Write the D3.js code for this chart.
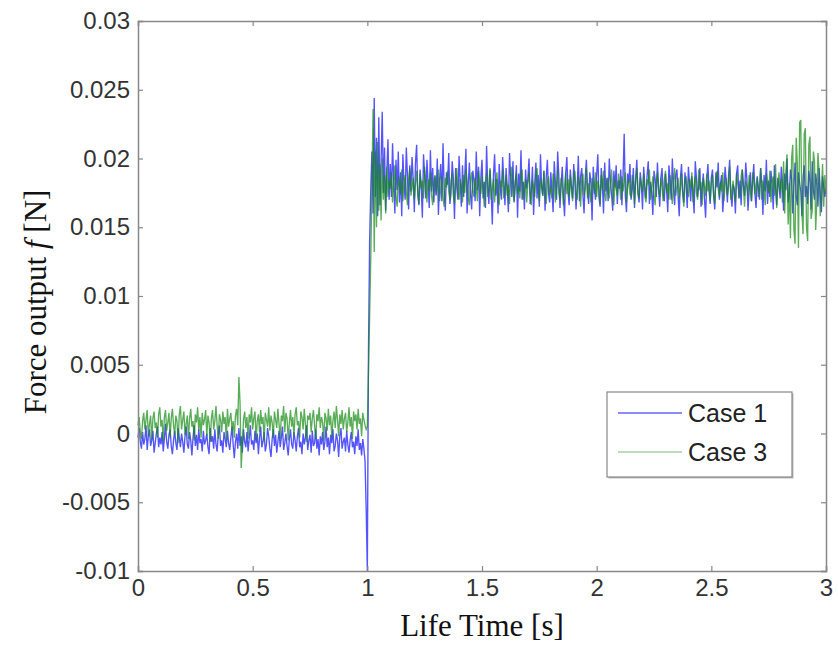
<!DOCTYPE html>
<meta charset="utf-8">
<title>force output</title>
<style>
body { margin: 0; background: #fff; }
.tick text { font-family: "Liberation Sans", Arial, sans-serif; fill: #333; }
</style>
<svg width="838" height="664"></svg>
<script src="https://d3js.org/d3.v7.min.js"></script>
<script>
// sample step 0.005 s (20 samples per row = 0.1 s), values in units of 1e-4 N
var DT = 0.005, UNIT = 1e-4;

var case1 = [
  -3, 4, -6, -11, 1, -8, -4, 6, -12, -2, 3, -9, -5, 2, -14, -7, 0, 5, -10, -3,
  -8, 1, -13, -4, 7, -6, -11, -1, 3, -9, -15, -5, 2, -7, -12, 4, -3, -10, 0, -6,
  -14, -2, 5, -8, -11, 1, -5, -16, -3, 6, -9, -1, -12, 3, -7, -4, -13, 2, -8, -5,
  0, -10, -15, 4, -6, -2, -11, 3, -8, -13, -1, 6, -9, -5, -14, 1, -4, -10, 2, -7,
  -12, -3, 5, -8, -18, -6, 0, -11, 4, -9, -2, -14, 3, -6, -10, 1, -13, -4, 6, -8,
  -5, -12, 2, -7, 0, -15, -3, 5, -10, -6, 1, -13, -8, 4, -2, -11, -17, -4, 3, -9,
  -1, -14, -6, 2, -10, -3, 5, -12, -7, 0, -9, -16, -4, 3, -8, -11, 1, -5, -13, -2,
  4, -10, -6, -15, 0, -8, -3, 6, -12, -5, -1, -14, 2, -9, -7, 3, -11, -4, -16, -2,
  -8, 1, -12, -6, 5, -10, -3, -15, -1, -7, 3, -13, -9, 0, -5, -17, -2, 4, -11, -6,
  -3, -13, 2, -8, -14, -5, 1, -10, -6, -15, -2, -9, 3, -12, -7, -16, -4, -11, -20, -55,
  -100, 60, 140, 178, 205, 160, 244, 172, 215, 158, 230, 166, 198, 234, 175, 208, 162, 190, 214, 170,
  196, 172, 211, 184, 160, 199, 177, 205, 168, 190, 158, 203, 181, 170, 208, 187, 163, 195, 176, 201,
  185, 161, 197, 210, 174, 166, 192, 179, 157, 203, 188, 171, 199, 182, 164, 206, 176, 193, 168, 187,
  173, 200, 159, 184, 196, 169, 211, 178, 162, 190, 181, 204, 167, 175, 198, 186, 156, 193, 179, 170,
  202, 183, 165, 195, 172, 188, 207, 160, 181, 197, 174, 163, 191, 185, 169, 205, 177, 194, 158, 186,
  199, 171, 183, 164, 209, 180, 167, 192, 176, 152, 188, 203, 173, 185, 160, 196, 178, 170, 201, 184,
  166, 193, 179, 161, 204, 187, 172, 198, 168, 181, 195, 157, 189, 176, 206, 170, 183, 163, 192, 178,
  185, 200, 167, 176, 194, 159, 182, 197, 171, 188, 165, 203, 179, 173, 191, 162, 186, 199, 175, 168,
  190, 177, 161, 198, 183, 170, 205, 187, 164, 181, 194, 172, 158, 189, 201, 176, 166, 192, 180, 171,
  196, 184, 163, 178, 202, 169, 187, 193, 174, 160, 185, 199, 177, 167, 190, 182, 155, 194, 179, 170,
  188, 203, 172, 165, 193, 181, 160, 197, 176, 186, 169, 200, 183, 174, 162, 191, 179, 195, 167, 184,
  178, 192, 166, 187, 218, 173, 161, 189, 182, 196, 170, 177, 193, 164, 185, 199, 175, 168, 190, 181,
  163, 194, 180, 171, 188, 198, 167, 183, 176, 159, 191, 185, 172, 197, 178, 165, 186, 193, 174, 169,
  189, 177, 161, 195, 184, 170, 200, 179, 166, 188, 192, 173, 158, 185, 196, 176, 168, 190, 181, 164,
  194, 182, 169, 187, 175, 160, 198, 186, 172, 180, 193, 165, 178, 189, 171, 157, 184, 196, 177, 167,
  186, 192, 173, 163, 190, 179, 197, 170, 182, 188, 161, 176, 194, 183, 168, 187, 199, 174, 165, 181,
  178, 160, 189, 195, 171, 184, 166, 192, 180, 173, 197, 185, 162, 177, 190, 169, 183, 196, 175, 164,
  187, 179, 170, 193, 182, 159, 188, 176, 199, 167, 184, 172, 191, 181, 163, 195, 178, 166, 186, 180,
  171, 194, 183, 162, 189, 177, 200, 168, 174, 192, 185, 160, 179, 197, 173, 166, 190, 182, 176, 158,
  186, 195, 172, 180, 167, 191, 184, 163, 198, 177, 170, 189, 181, 165, 193, 175, 161, 187, 179, 172,
  178
];

var case3 = [
  6, 12, 1, -4, 9, 15, 3, 10, 17, -2, 7, 13, -5, 11, 16, 4, 8, -3, 14, 19,
  5, 10, -6, 12, 17, 2, 8, 15, -3, 11, 18, 6, -1, 13, 9, -7, 14, 20, 3, 10,
  16, -1, 7, 13, -4, 11, 18, 5, 9, -5, 14, 8, 19, 2, 12, -3, 15, 6, 10, 17,
  -2, 13, 8, -6, 11, 17, 3, 9, 20, 6, -4, 14, 10, 1, 16, 7, 12, -5, 18, 5,
  11, 15, 2, 9, -3, 13, 18, 6, 41, 22, -25, -8, 10, 16, 4, 12, -4, 14, 8, 19,
  3, 11, 16, -5, 9, 14, 1, 17, 7, 12, -6, 15, 10, 5, 19, 2, 13, 8, -3, 16,
  10, 4, 18, 7, -4, 13, 9, 20, 1, 15, 11, -5, 8, 17, 5, 12, -2, 14, 19, 6,
  9, -3, 16, 12, 3, 18, 7, -6, 13, 10, 15, 1, 11, 17, 6, -4, 14, 9, 19, 4,
  12, 8, -5, 15, 11, 2, 18, 6, 13, -3, 9, 16, 4, 20, 10, -2, 14, 7, 17, 3,
  11, 15, 1, 8, 19, 5, 12, -4, 16, 9, 14, 3, 18, 7, 11, -2, 15, 10, 6, 3,
  5, 45, 85, 128, 180, 236, 132, 205, 150, 212, 162, 196, 155, 200, 170, 188, 160, 194, 172, 185,
  178, 190, 168, 183, 195, 172, 165, 187, 180, 174, 192, 169, 181, 188, 176, 166, 185, 193, 173, 179,
  186, 170, 182, 191, 175, 167, 189, 178, 184, 171, 194, 180, 168, 185, 177, 190, 173, 166, 183, 188,
  174, 181, 192, 169, 178, 187, 172, 165, 186, 179, 191, 176, 170, 184, 189, 173, 167, 182, 193, 177,
  170, 185, 180, 168, 188, 175, 192, 183, 171, 166, 184, 190, 177, 172, 186, 179, 169, 191, 181, 174,
  187, 176, 165, 183, 189, 172, 180, 193, 170, 178, 185, 168, 182, 190, 175, 166, 184, 179, 192, 171,
  177, 188, 173, 181, 167, 186, 194, 176, 169, 183, 189, 174, 180, 171, 187, 192, 170, 178, 185, 168,
  182, 190, 175, 166, 184, 179, 172, 188, 193, 177, 169, 185, 181, 173, 191, 176, 167, 183, 187, 174,
  180, 171, 189, 184, 168, 178, 192, 175, 170, 186, 181, 166, 179, 190, 174, 185, 172, 188, 177, 169,
  183, 191, 176, 170, 187, 180, 165, 184, 189, 173, 178, 193, 171, 182, 176, 168, 186, 180, 174, 190,
  172, 184, 179, 167, 188, 177, 191, 175, 169, 183, 186, 171, 180, 192, 176, 166, 185, 178, 173, 189,
  181, 170, 187, 176, 183, 190, 168, 179, 185, 174, 172, 188, 182, 167, 184, 193, 175, 171, 186, 180,
  176, 189, 173, 168, 185, 181, 192, 170, 178, 187, 174, 166, 183, 190, 177, 172, 186, 179, 169, 184,
  191, 175, 182, 170, 188, 176, 167, 184, 193, 173, 180, 186, 171, 178, 189, 174, 165, 183, 187, 176,
  172, 185, 179, 190, 168, 181, 187, 175, 170, 192, 177, 183, 166, 186, 180, 173, 189, 176, 184, 169,
  182, 188, 174, 167, 185, 191, 178, 172, 183, 176, 190, 169, 181, 186, 173, 179, 194, 170, 177, 184,
  175, 168, 189, 182, 176, 171, 187, 192, 178, 165, 184, 180, 173, 188, 176, 169, 190, 183, 174, 181,
  186, 172, 179, 193, 170, 184, 177, 166, 189, 181, 175, 191, 168, 183, 187, 173, 196, 164, 180, 190,
  176, 185, 168, 198, 160, 190, 203, 152, 182, 142, 200, 210, 148, 138, 215, 196, 135, 226, 228, 160,
  145, 218, 222, 150, 140, 210, 216, 156, 162, 205, 198, 148, 170, 204, 190, 158, 176, 196, 165, 188,
  175
];

var xTicks = [0, 0.5, 1, 1.5, 2, 2.5, 3];
var yTicks = [-0.01, -0.005, 0, 0.005, 0.01, 0.015, 0.02, 0.025, 0.03];
var seriesNames = ["Case 1", "Case 3"];

var svg = d3.select("svg"),
    margin = {top: 21, right: 12, bottom: 93, left: 138},
    width = +svg.attr("width") - margin.left - margin.right,
    height = +svg.attr("height") - margin.top - margin.bottom,
    g = svg.append("g").attr("transform", "translate(" + margin.left + "," + margin.top + ")");

var x = d3.scaleLinear().domain([0, 3]).range([0, width]);
var y = d3.scaleLinear().domain([-0.01, 0.03]).range([height, 0]);

var fmt = function(d) { return String(d); };

var line = d3.line()
    .x(function(d, i) { return x(i * DT); })
    .y(function(d) { return y(d * UNIT); });

g.append("path")
    .datum(case1)
    .attr("fill", "none")
    .attr("stroke", "#1a1aff")
    .attr("stroke-opacity", 0.75)
    .attr("stroke-width", 1.35)
    .attr("d", line);

g.append("path")
    .datum(case3)
    .attr("fill", "none")
    .attr("stroke", "#138a13")
    .attr("stroke-opacity", 0.7)
    .attr("stroke-width", 1.35)
    .attr("d", line);

function styleAxis(sel) {
  sel.select(".domain").attr("stroke", "#888").attr("stroke-width", 1.5);
  sel.selectAll(".tick line").attr("stroke", "#888").attr("stroke-width", 1.2);
}

g.append("g")
    .attr("transform", "translate(0," + height + ")")
    .call(d3.axisBottom(x).tickValues(xTicks).tickSize(-5).tickPadding(6).tickFormat(fmt))
    .call(styleAxis)
    .selectAll("text").style("font-size", "24px").attr("dy", "0.8em");

g.append("g")
    .call(d3.axisTop(x).tickValues(xTicks).tickSize(-5).tickFormat(""))
    .call(styleAxis);

g.append("g")
    .call(d3.axisLeft(y).tickValues(yTicks).tickSize(-5).tickPadding(8).tickFormat(fmt))
    .call(styleAxis)
    .selectAll("text").style("font-size", "24px");

g.append("g")
    .attr("transform", "translate(" + width + ",0)")
    .call(d3.axisRight(y).tickValues(yTicks).tickSize(-5).tickFormat(""))
    .call(styleAxis);

svg.append("text")
    .attr("x", margin.left + width / 2)
    .attr("y", 636)
    .attr("text-anchor", "middle")
    .attr("font-family", "'Liberation Serif', 'Times New Roman', serif")
    .attr("font-size", 31)
    .attr("fill", "#111")
    .text("Life Time [s]");

var ylab = svg.append("text")
    .attr("transform", "translate(46,302) rotate(-90)")
    .attr("text-anchor", "middle")
    .attr("font-family", "'Liberation Serif', 'Times New Roman', serif")
    .attr("font-size", 31)
    .attr("fill", "#111");
ylab.append("tspan").text("Force output ");
ylab.append("tspan").attr("font-style", "italic").text("f");
ylab.append("tspan").text(" [N]");

// legend
var legendColors = ["#6464ff", "#a6cea6"];
var legend = svg.append("g").attr("transform", "translate(607,392)");
legend.append("rect")
    .attr("x", 1.5).attr("y", 1.5)
    .attr("width", 185).attr("height", 85)
    .attr("fill", "#bbb");
legend.append("rect")
    .attr("width", 185).attr("height", 85)
    .attr("fill", "#fff")
    .attr("stroke", "#888")
    .attr("stroke-width", 1.2);
var item = legend.selectAll("g.item")
    .data(seriesNames)
    .enter().append("g")
    .attr("class", "item")
    .attr("transform", function(d, i) { return "translate(0," + (21 + i * 39) + ")"; });
item.append("line")
    .attr("x1", 11).attr("x2", 75)
    .attr("stroke", function(d, i) { return legendColors[i]; })
    .attr("stroke-width", 1.5);
item.append("text")
    .attr("x", 81)
    .attr("dy", "0.36em")
    .attr("font-family", "'Liberation Sans', Arial, sans-serif")
    .attr("font-size", 25)
    .attr("fill", "#222")
    .text(function(d) { return d; });
</script>
